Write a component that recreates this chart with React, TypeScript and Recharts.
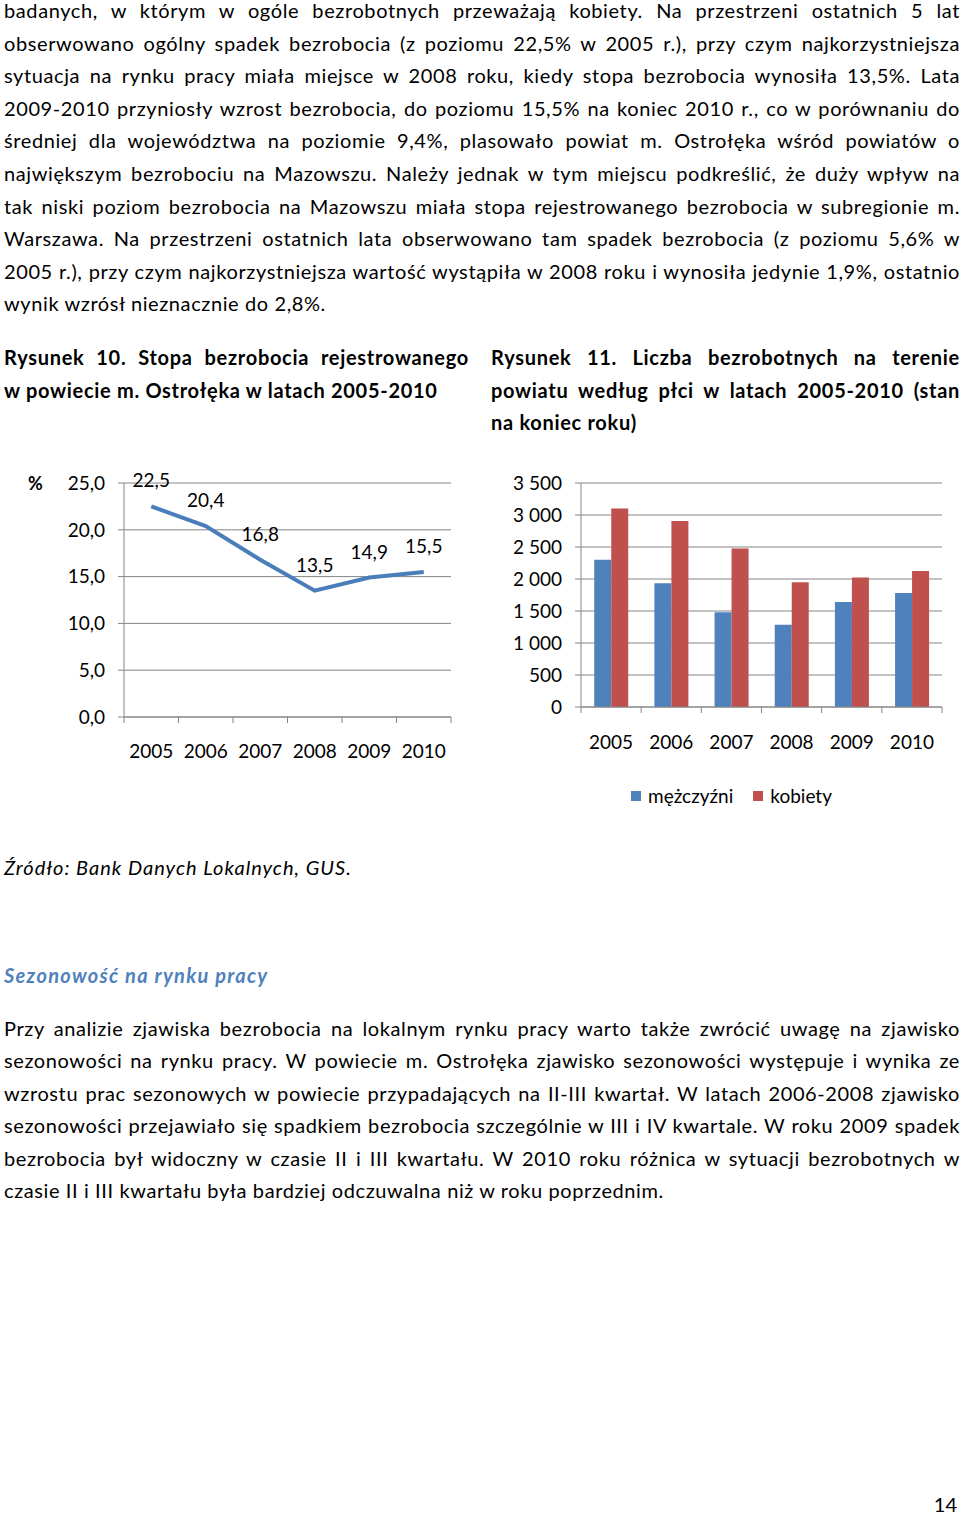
import {
  Bar,
  BarChart,
  CartesianGrid,
  Legend,
  LabelList,
  Line,
  LineChart,
  XAxis,
  YAxis,
} from "recharts";

const YEARS = ["2005", "2006", "2007", "2008", "2009", "2010"];
const RATE = [22.5, 20.4, 16.8, 13.5, 14.9, 15.5];
const MEN = [2300, 1935, 1480, 1285, 1640, 1780];
const WOMEN = [3100, 2905, 2475, 1950, 2025, 2125];
const RATE_TICKS = [0, 5, 10, 15, 20, 25];
const COUNT_TICKS = [0, 500, 1000, 1500, 2000, 2500, 3000, 3500];

const INTRO_LINES = [
  "badanych, w którym w ogóle bezrobotnych przeważają kobiety. Na przestrzeni ostatnich 5 lat",
  "obserwowano ogólny spadek bezrobocia (z poziomu 22,5% w 2005 r.), przy czym najkorzystniejsza",
  "sytuacja na rynku pracy miała miejsce w 2008 roku, kiedy stopa bezrobocia wynosiła 13,5%. Lata",
  "2009-2010 przyniosły wzrost bezrobocia, do poziomu 15,5% na koniec 2010 r., co w porównaniu do",
  "średniej dla województwa na poziomie 9,4%, plasowało powiat m. Ostrołęka wśród powiatów o",
  "największym bezrobociu na Mazowszu. Należy jednak w tym miejscu podkreślić, że duży wpływ na",
  "tak niski poziom bezrobocia na Mazowszu miała stopa rejestrowanego bezrobocia w subregionie m.",
  "Warszawa. Na przestrzeni ostatnich lata obserwowano tam spadek bezrobocia (z poziomu 5,6% w",
  "2005 r.), przy czym najkorzystniejsza wartość wystąpiła w 2008 roku i wynosiła jedynie 1,9%, ostatnio",
  "wynik wzrósł nieznacznie do 2,8%.",
];

const SEASON_LINES = [
  "Przy analizie zjawiska bezrobocia na lokalnym rynku pracy warto także zwrócić uwagę na zjawisko",
  "sezonowości na rynku pracy. W powiecie m. Ostrołęka zjawisko sezonowości występuje i wynika ze",
  "wzrostu prac sezonowych w powiecie przypadających na II-III kwartał. W latach 2006-2008 zjawisko",
  "sezonowości przejawiało się spadkiem bezrobocia szczególnie w III i IV kwartale. W roku 2009 spadek",
  "bezrobocia był widoczny w czasie II i III kwartału. W 2010 roku różnica w sytuacji bezrobotnych w",
  "czasie II i III kwartału była bardziej odczuwalna niż w roku poprzednim.",
];

const CAPTION_LEFT = [
  "Rysunek 10. Stopa bezrobocia rejestrowanego",
  "w powiecie m. Ostrołęka  w latach 2005-2010",
];
const CAPTION_RIGHT = [
  "Rysunek 11. Liczba bezrobotnych na terenie",
  "powiatu według płci w latach 2005-2010 (stan",
  "na koniec roku)",
];

const FONT = 'Lato, "Open Sans", sans-serif';
const BLUE = "#4F81BD";
const LINE_BLUE = "#4A7EBB";
const RED = "#C0504D";
const GRID = "#868686";

const rateData = YEARS.map((year, i) => ({ year, rate: RATE[i] }));
const countData = YEARS.map((year, i) => ({
  year,
  men: MEN[i],
  women: WOMEN[i],
}));

const fmtRate = (v: number) => v.toFixed(1).replace(".", ",");
const fmtCount = (v: number) =>
  String(v).replace(/\B(?=(\d{3})+(?!\d))/g, " ");

function TextLine({
  text,
  center,
  left = 4,
  width = 956,
  justify = true,
  style,
}: {
  text: string;
  center: number;
  left?: number;
  width?: number;
  justify?: boolean;
  style?: React.CSSProperties;
}) {
  return (
    <div
      style={{
        position: "absolute",
        left,
        width,
        top: center - 10,
        height: 20,
        lineHeight: "20px",
        fontSize: 20,
        letterSpacing: 0.6,
        textAlign: justify ? "justify" : "left",
        textAlignLast: justify ? "justify" : "left",
        whiteSpace: "nowrap",
        color: "#000",
        ...style,
      }}
    >
      {text}
    </div>
  );
}

// category tick: label centred, tick marks at band boundaries (Excel style)
function YearTick(props: any) {
  const { x, y, payload, index, step, count, labelDy } = props;
  return (
    <g>
      <line x1={x - step / 2} x2={x - step / 2} y1={y} y2={y + 6} stroke={GRID} />
      {index === count - 1 && (
        <line x1={x + step / 2} x2={x + step / 2} y1={y} y2={y + 6} stroke={GRID} />
      )}
      <text
        x={x}
        y={y + labelDy}
        textAnchor="middle"
        dominantBaseline="central"
        fontSize={19}
        fill="#000"
        fontFamily={FONT}
      >
        {payload.value}
      </text>
    </g>
  );
}

function RateChart() {
  const width = 470;
  const plotLeft = 124;
  const plotRight = 19;
  const step = (width - plotLeft - plotRight) / YEARS.length;
  return (
    <LineChart
      width={width}
      height={310}
      data={rateData}
      margin={{ top: 23, right: plotRight, bottom: 0, left: 0 }}
      style={{ fontFamily: FONT }}
    >
      <CartesianGrid vertical={false} stroke={GRID} />
      <XAxis
        dataKey="year"
        scale="band"
        axisLine={{ stroke: GRID }}
        tickLine={false}
        tickSize={0}
        tickMargin={0}
        interval={0}
        height={53}
        tick={<YearTick step={step} count={YEARS.length} labelDy={33} />}
      />
      <YAxis
        width={plotLeft}
        domain={[0, 25]}
        ticks={RATE_TICKS}
        tickFormatter={fmtRate}
        axisLine={{ stroke: GRID }}
        tickLine={{ stroke: GRID }}
        tickSize={6}
        tickMargin={13}
        tick={{ fill: "#000", fontSize: 19 }}
      />
      <Line
        type="linear"
        dataKey="rate"
        stroke={LINE_BLUE}
        strokeWidth={4}
        dot={false}
        isAnimationActive={false}
      >
        <LabelList
          dataKey="rate"
          position="top"
          offset={19}
          formatter={(v: any) => fmtRate(Number(v))}
          style={{ fill: "#000", fontSize: 19 }}
        />
      </Line>
    </LineChart>
  );
}

function CountLegend() {
  const items = [
    { label: "mężczyźni", color: BLUE },
    { label: "kobiety", color: RED },
  ];
  return (
    <div style={{ display: "flex", alignItems: "center", fontSize: 19 }}>
      {items.map((it) => (
        <div
          key={it.label}
          style={{ display: "flex", alignItems: "center", marginRight: 20 }}
        >
          <span
            style={{
              display: "inline-block",
              width: 10,
              height: 10,
              background: it.color,
              marginRight: 7,
            }}
          />
          <span>{it.label}</span>
        </div>
      ))}
    </div>
  );
}

function CountChart() {
  const width = 470;
  const plotLeft = 91;
  const plotRight = 18;
  const step = (width - plotLeft - plotRight) / YEARS.length;
  return (
    <BarChart
      width={width}
      height={350}
      data={countData}
      margin={{ top: 23, right: plotRight, bottom: 63, left: 0 }}
      barGap={0}
      barCategoryGap="22%"
      style={{ fontFamily: FONT }}
    >
      <CartesianGrid vertical={false} stroke={GRID} />
      <XAxis
        dataKey="year"
        axisLine={{ stroke: GRID }}
        tickLine={false}
        tickSize={0}
        tickMargin={0}
        interval={0}
        height={40}
        tick={<YearTick step={step} count={YEARS.length} labelDy={34} />}
      />
      <YAxis
        width={plotLeft}
        domain={[0, 3500]}
        ticks={COUNT_TICKS}
        tickFormatter={fmtCount}
        axisLine={{ stroke: GRID }}
        tickLine={{ stroke: GRID }}
        tickSize={6}
        tickMargin={13}
        tick={{ fill: "#000", fontSize: 19 }}
      />
      <Legend
        layout="horizontal"
        verticalAlign="middle"
        align="center"
        content={<CountLegend />}
        wrapperStyle={{ position: "absolute", left: 141, top: 324, width: "auto" }}
      />
      <Bar dataKey="men" name="mężczyźni" fill={BLUE} isAnimationActive={false} />
      <Bar dataKey="women" name="kobiety" fill={RED} isAnimationActive={false} />
    </BarChart>
  );
}

export default function App() {
  return (
    <div
      style={{
        position: "absolute",
        left: 0,
        top: 0,
        width: 960,
        height: 1514,
        overflow: "hidden",
        background: "#fff",
        fontFamily: FONT,
        color: "#000",
      }}
    >
      {INTRO_LINES.map((t, i) => (
        <TextLine
          key={i}
          text={t}
          center={10 + i * 32.6}
          justify={i < INTRO_LINES.length - 1}
        />
      ))}

      {CAPTION_LEFT.map((t, i) => (
        <TextLine
          key={"cl" + i}
          text={t}
          center={357 + i * 32.5}
          left={4}
          width={465}
          justify={i === 0}
          style={{ fontWeight: 700, letterSpacing: 0.7 }}
        />
      ))}
      {CAPTION_RIGHT.map((t, i) => (
        <TextLine
          key={"cr" + i}
          text={t}
          center={357 + i * 32.5}
          left={491}
          width={469}
          justify={i < CAPTION_RIGHT.length - 1}
          style={{ fontWeight: 700, letterSpacing: 0.7 }}
        />
      ))}

      <div
        style={{
          position: "absolute",
          left: 28,
          top: 472,
          fontSize: 18,
          fontWeight: 700,
        }}
      >
        %
      </div>
      <div style={{ position: "absolute", left: 0, top: 460 }}>
        <RateChart />
      </div>
      <div style={{ position: "absolute", left: 490, top: 460 }}>
        <CountChart />
      </div>

      <TextLine
        text="Źródło: Bank Danych Lokalnych, GUS."
        center={867}
        justify={false}
        style={{ fontStyle: "italic", letterSpacing: 1 }}
      />
      <TextLine
        text="Sezonowość na rynku pracy"
        center={975}
        justify={false}
        style={{ fontStyle: "italic", fontWeight: 700, color: BLUE, letterSpacing: 1.3 }}
      />

      {SEASON_LINES.map((t, i) => (
        <TextLine
          key={"s" + i}
          text={t}
          center={1028 + i * 32.4}
          justify={i < SEASON_LINES.length - 1}
        />
      ))}

      <div
        style={{
          position: "absolute",
          right: 3,
          top: 1491,
          fontSize: 20,
          lineHeight: "26px",
        }}
      >
        14
      </div>
    </div>
  );
}
